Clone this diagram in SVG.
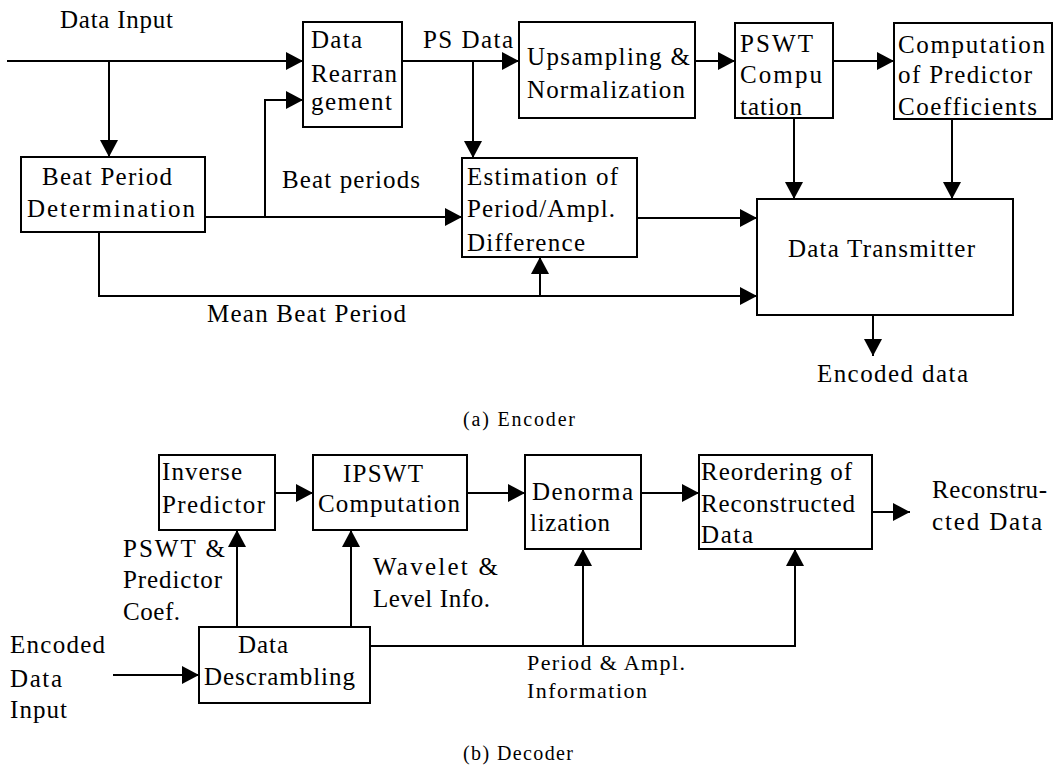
<svg xmlns="http://www.w3.org/2000/svg" width="1060" height="773" viewBox="0 0 1060 773">
<style>
.box{fill:#fff;stroke:#000;stroke-width:2}
.t{font-family:"Liberation Serif","DejaVu Serif","Times New Roman",serif;font-size:25px;fill:#000}
.s{font-family:"Liberation Serif","DejaVu Serif","Times New Roman",serif;font-size:22px;fill:#000}
.cap{font-family:"Liberation Serif","DejaVu Serif","Times New Roman",serif;font-size:20px;fill:#000}
.c{fill:none;stroke:#000;stroke-width:2;marker-end:url(#ah)}
</style>
<defs>
<marker id="ah" markerUnits="userSpaceOnUse" markerWidth="17" markerHeight="18" refX="17" refY="9" orient="auto">
<path d="M0,0 L17,9 L0,18 Z" fill="#000"/>
</marker>
</defs>
<rect width="1060" height="773" fill="#fff"/>
<g id="connectors">
<path class="c" d="M7,61 H303"/>
<path class="c" d="M109,61 V157"/>
<path class="c" d="M205,217 H462"/>
<path class="c" d="M265,217 V100 H303"/>
<path class="c" d="M402,61 H519"/>
<path class="c" d="M473,61 V158"/>
<path class="c" d="M695,61 H735"/>
<path class="c" d="M833,61 H894"/>
<path class="c" d="M794,118 V199"/>
<path class="c" d="M952,119 V199"/>
<path class="c" d="M637,218 H757"/>
<path class="c" d="M99,232 V296 H757"/>
<path class="c" d="M540,296 V257"/>
<path class="c" d="M873,315 V356"/>
<path class="c" d="M113,675 H199"/>
<path class="c" d="M237,627 V530"/>
<path class="c" d="M351,627 V530"/>
<path class="c" d="M275,493 H313"/>
<path class="c" d="M467,493 H525"/>
<path class="c" d="M641,493 H699"/>
<path class="c" d="M872,512 H910"/>
<path class="c" d="M370,646 H795 V549"/>
<path class="c" d="M583,646 V549"/>
</g>
<g id="labels">
<text class="t" x="60" y="28" textLength="113" lengthAdjust="spacing">Data Input</text>
<text class="t" x="423" y="48" textLength="90" lengthAdjust="spacing">PS Data</text>
<text class="t" x="282" y="188" textLength="138" lengthAdjust="spacing">Beat periods</text>
<text class="t" x="207" y="322" textLength="199" lengthAdjust="spacing">Mean Beat Period</text>
<text class="t" x="817" y="382" textLength="151" lengthAdjust="spacing">Encoded data</text>
<text class="cap" x="463" y="426" textLength="112" lengthAdjust="spacing">(a)  Encoder</text>
<text class="t" x="10" y="653" textLength="95" lengthAdjust="spacing">Encoded</text>
<text class="t" x="10" y="687" textLength="52" lengthAdjust="spacing">Data</text>
<text class="t" x="10" y="718" textLength="57" lengthAdjust="spacing">Input</text>
<text class="t" x="123" y="557" textLength="102" lengthAdjust="spacing">PSWT &amp;</text>
<text class="t" x="123" y="588" textLength="99" lengthAdjust="spacing">Predictor</text>
<text class="t" x="123" y="620" textLength="57" lengthAdjust="spacing">Coef.</text>
<text class="t" x="373" y="575" textLength="125" lengthAdjust="spacing">Wavelet  &amp;</text>
<text class="t" x="373" y="607" textLength="117" lengthAdjust="spacing">Level Info.</text>
<text class="s" x="527" y="670" textLength="158" lengthAdjust="spacing">Period &amp; Ampl.</text>
<text class="s" x="527" y="698" textLength="120" lengthAdjust="spacing">Information</text>
<text class="t" x="932" y="498" textLength="115" lengthAdjust="spacing">Reconstru-</text>
<text class="t" x="932" y="530" textLength="110" lengthAdjust="spacing">cted  Data</text>
<text class="cap" x="463" y="760" textLength="110" lengthAdjust="spacing">(b)  Decoder</text>
</g>
<g id="beat-period">
<rect class="box" x="21" y="157" width="184" height="75"/>
<text class="t" x="42" y="185" textLength="130" lengthAdjust="spacing">Beat Period</text>
<text class="t" x="27" y="217" textLength="168" lengthAdjust="spacing">Determination</text>
</g>
<g id="data-rearrangement">
<rect class="box" x="303" y="22" width="99" height="105"/>
<text class="t" x="311" y="48" textLength="51" lengthAdjust="spacing">Data</text>
<text class="t" x="311" y="82" textLength="86" lengthAdjust="spacing">Rearran</text>
<text class="t" x="311" y="110" textLength="81" lengthAdjust="spacing">gement</text>
</g>
<g id="upsampling">
<rect class="box" x="519" y="22" width="176" height="96"/>
<text class="t" x="527" y="65" textLength="163" lengthAdjust="spacing">Upsampling &amp;</text>
<text class="t" x="527" y="98" textLength="158" lengthAdjust="spacing">Normalization</text>
</g>
<g id="pswt">
<rect class="box" x="735" y="23" width="98" height="95"/>
<text class="t" x="740" y="52" textLength="73" lengthAdjust="spacing">PSWT</text>
<text class="t" x="740" y="83" textLength="82" lengthAdjust="spacing">Compu</text>
<text class="t" x="740" y="115" textLength="62" lengthAdjust="spacing">tation</text>
</g>
<g id="predictor-coefficients">
<rect class="box" x="894" y="23" width="158" height="96"/>
<text class="t" x="898" y="53" textLength="147" lengthAdjust="spacing">Computation</text>
<text class="t" x="898" y="83" textLength="134" lengthAdjust="spacing">of Predictor</text>
<text class="t" x="898" y="115" textLength="139" lengthAdjust="spacing">Coefficients</text>
</g>
<g id="estimation">
<rect class="box" x="462" y="158" width="175" height="99"/>
<text class="t" x="467" y="185" textLength="151" lengthAdjust="spacing">Estimation of</text>
<text class="t" x="467" y="217" textLength="148" lengthAdjust="spacing">Period/Ampl.</text>
<text class="t" x="467" y="251" textLength="118" lengthAdjust="spacing">Difference</text>
</g>
<g id="data-transmitter">
<rect class="box" x="757" y="199" width="256" height="116"/>
<text class="t" x="788" y="257" textLength="187" lengthAdjust="spacing">Data Transmitter</text>
</g>
<g id="inverse-predictor">
<rect class="box" x="159" y="455" width="116" height="75"/>
<text class="t" x="162" y="480" textLength="80" lengthAdjust="spacing">Inverse</text>
<text class="t" x="162" y="513" textLength="103" lengthAdjust="spacing">Predictor</text>
</g>
<g id="ipswt">
<rect class="box" x="313" y="455" width="154" height="75"/>
<text class="t" x="343" y="482" textLength="80" lengthAdjust="spacing">IPSWT</text>
<text class="t" x="318" y="512" textLength="142" lengthAdjust="spacing">Computation</text>
</g>
<g id="denormalization">
<rect class="box" x="525" y="455" width="116" height="94"/>
<text class="t" x="532" y="500" textLength="101" lengthAdjust="spacing">Denorma</text>
<text class="t" x="530" y="531" textLength="80" lengthAdjust="spacing">lization</text>
</g>
<g id="reordering">
<rect class="box" x="699" y="455" width="173" height="94"/>
<text class="t" x="701" y="480" textLength="151" lengthAdjust="spacing">Reordering of</text>
<text class="t" x="701" y="512" textLength="154" lengthAdjust="spacing">Reconstructed</text>
<text class="t" x="701" y="543" textLength="52" lengthAdjust="spacing">Data</text>
</g>
<g id="data-descrambling">
<rect class="box" x="199" y="627" width="171" height="76"/>
<text class="t" x="238" y="653" textLength="50" lengthAdjust="spacing">Data</text>
<text class="t" x="204" y="685" textLength="151" lengthAdjust="spacing">Descrambling</text>
</g>
</svg>
